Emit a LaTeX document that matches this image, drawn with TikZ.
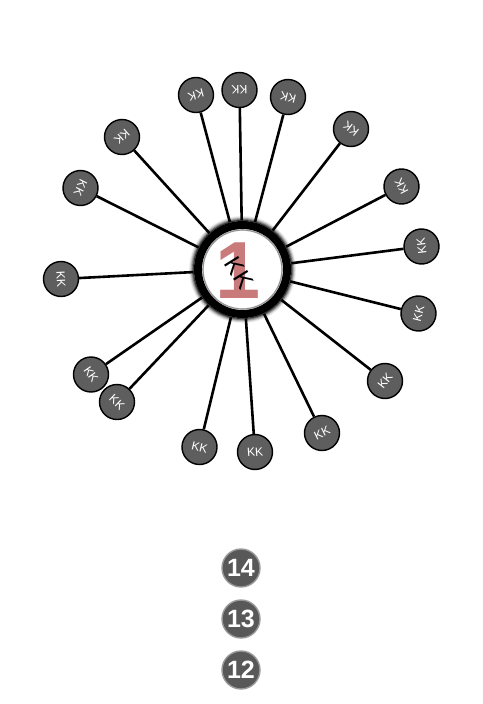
\documentclass[tikz,border=0pt]{standalone}
\usepackage{fontspec}
\setmainfont{Liberation Sans}
\definecolor{nodegray}{HTML}{5E5E5E}
\definecolor{numgray}{HTML}{585858}
\definecolor{onered}{HTML}{C06464}
\begin{document}
\begin{tikzpicture}[x=1pt,y=-1pt,
  leaf/.style={circle, fill=nodegray, draw=black, line width=1.4pt, minimum size=35pt, inner sep=0pt,
    text=white, font=\fontsize{12}{12}\selectfont},
  spoke/.style={line width=2.6pt, black},
  numdot/.style={circle, fill=numgray, draw=gray!80, line width=1.4pt, minimum size=38pt, inner sep=0pt,
    text=white, font=\fontsize{25}{25}\selectfont\bfseries}]
\useasboundingbox (0,0) rectangle (482,704);
\coordinate (cc) at (242.5,269.5);
\node[circle, minimum size=98pt, inner sep=0pt] (c) at (cc) {};
% leaves
\foreach \i/\x/\y in {1/196/95, 2/239.5/90, 3/288/97, 4/351/129, 5/401.5/186.5, 6/421.5/246.5, 7/418.5/313.5,
  8/385/381, 9/322/433, 10/255/452, 11/199.5/447, 12/117/402, 13/91/374.5, 14/61/279, 15/80.5/188, 16/122/137}{
  \pgfmathsetmacro{\ang}{atan2(269.5-\y,\x-242.5)+90}
  \node[leaf, rotate=\ang] (n\i) at (\x,\y) {KK};
}
\foreach \i in {1,...,16}{ \draw[spoke] (c) -- (n\i); }
% centre ring with blurred edge
\foreach \r/\o in {53/0.06, 52/0.15, 51/0.3, 50/0.5, 49/0.75}{
  \draw[line width=1.2pt, black, opacity=\o] (cc) circle (\r);
}
\foreach \r/\o in {38.5/0.15, 39.5/0.4}{
  \draw[line width=1.2pt, black, opacity=\o] (cc) circle (\r);
}
\draw[line width=8pt, black] (cc) circle (44.5);
\fill[white] (cc) circle (38.5);
\node[text=onered, opacity=0.85, font=\fontsize{81}{81}\selectfont\bfseries] (one) at (238,270.5) {1};
\node[rotate=-58, font=\fontsize{24}{24}\selectfont] (kk) at (239,273) {KK};
% numbered dots
\node[numdot] (d14) at (241,568) {14};
\node[numdot] (d13) at (241,619) {13};
\node[numdot] (d12) at (241,670) {12};
\end{tikzpicture}
\end{document}
